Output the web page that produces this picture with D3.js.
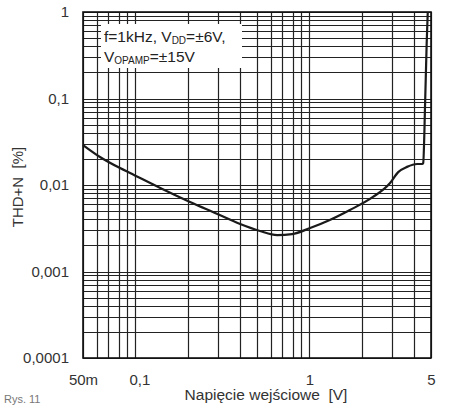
<!DOCTYPE html>
<html>
<head>
<meta charset="utf-8">
<script src="https://cdn.jsdelivr.net/npm/d3@7"></script>
<style>
  body { margin: 0; background: #fff; }
  svg { display: block; font-family: "Liberation Sans", Arial, sans-serif; }
</style>
</head>
<body>
<div id="chart"></div>
<script>
// curve
const voltage = [0.05, 0.0626, 0.0816, 0.0932, 0.139, 0.206, 0.287, 0.40, 0.52, 0.653, 0.796, 1.01, 1.31, 1.71, 2.32, 2.91, 3.24, 3.64, 4.16, 4.45, 4.51, 4.63, 4.72, 4.79];
const thd     = [0.029, 0.0211, 0.0157, 0.01376, 0.00923, 0.00636, 0.00475, 0.00354, 0.00294, 0.00264, 0.00271, 0.00318, 0.00394, 0.00514, 0.00727, 0.01055, 0.0141, 0.0162, 0.0175, 0.0175, 0.018, 0.096, 0.42, 1];

const xTicks = [0.05, 0.1, 1, 5];
const xTickLabels = ["50m", "0,1", "1", "5"];
const yTicks = [0.0001, 0.001, 0.01, 0.1, 1];
const yTickLabels = ["0,0001", "0,001", "0,01", "0,1", "1"];

const width = 454, height = 405;
const m = { left: 83, right: 23, top: 12, bottom: 47 };
const font = "Liberation Sans, Arial, sans-serif";

const svg = d3.select("#chart").append("svg")
    .attr("width", width)
    .attr("height", height);

const x = d3.scaleLog().domain([0.05, 5]).range([m.left, width - m.right]);
const y = d3.scaleLog().domain([0.0001, 1]).range([height - m.bottom, m.top]);

const grid = svg.append("g").attr("stroke", "#222").attr("stroke-width", 1.2);

// vertical grid
grid.selectAll(".vx")
    .data(x.ticks())
    .join("line")
    .attr("x1", d => Math.round(x(d)) + 0.5).attr("x2", d => Math.round(x(d)) + 0.5)
    .attr("y1", m.top).attr("y2", height - m.bottom);

// horizontal grid
grid.selectAll(".hy")
    .data(y.ticks())
    .join("line")
    .attr("y1", d => Math.round(y(d)) + 0.5).attr("y2", d => Math.round(y(d)) + 0.5)
    .attr("x1", m.left).attr("x2", width - m.right);

// frame
svg.append("rect")
   .attr("x", m.left).attr("y", m.top)
   .attr("width", width - m.left - m.right)
   .attr("height", height - m.top - m.bottom)
   .attr("fill", "none").attr("stroke", "#111").attr("stroke-width", 1.6);

// legend box
const box = svg.append("g");
box.append("rect")
   .attr("x", 101).attr("y", 24).attr("width", 141).attr("height", 44)
   .attr("fill", "#fff");
const t1 = box.append("text").attr("x", 104).attr("y", 42).attr("font-size", 15.5).attr("fill", "#222");
t1.append("tspan").text("f=1kHz, V");
t1.append("tspan").attr("font-size", 10).attr("dy", 2).text("DD");
t1.append("tspan").attr("dy", -2).text("=±6V,");
const t2 = box.append("text").attr("x", 104).attr("y", 62).attr("font-size", 15.5).attr("fill", "#222");
t2.append("tspan").text("V");
t2.append("tspan").attr("font-size", 10).attr("dy", 2).text("OPAMP");
t2.append("tspan").attr("dy", -2).text("=±15V");

// curve
const line = d3.line()
    .x((d, i) => x(voltage[i]))
    .y(d => y(d))
    .curve(d3.curveMonotoneX);

svg.append("path")
   .datum(thd)
   .attr("d", line)
   .attr("fill", "none")
   .attr("stroke", "#1a1a1a")
   .attr("stroke-width", 2.2);

// axes
const yAxis = svg.append("g")
    .attr("transform", `translate(${m.left - 11},0)`)
    .call(d3.axisLeft(y).tickValues(yTicks).tickSize(0).tickFormat((d, i) => yTickLabels[i]));
yAxis.select(".domain").remove();
yAxis.selectAll("text").attr("font-size", 15).attr("fill", "#333").attr("font-family", font);

const xAxis = svg.append("g")
    .attr("transform", `translate(0,${height - m.bottom + 13})`)
    .call(d3.axisBottom(x).tickValues(xTicks).tickSize(0).tickFormat((d, i) => xTickLabels[i]));
xAxis.select(".domain").remove();
xAxis.selectAll("text").attr("font-size", 15).attr("fill", "#333").attr("font-family", font);
xAxis.selectAll(".tick").filter(d => d === 0.1).select("text").attr("dx", 4);

svg.append("text")
   .attr("x", 266).attr("y", 400)
   .attr("text-anchor", "middle").attr("font-size", 15.5).attr("fill", "#333")
   .attr("xml:space", "preserve")
   .text("Napięcie wejściowe  [V]");

svg.append("text")
   .attr("transform", "translate(23,187) rotate(-90)")
   .attr("text-anchor", "middle").attr("font-size", 15).attr("fill", "#333")
   .attr("xml:space", "preserve")
   .text("THD+N  [%]");

svg.append("text")
   .attr("x", 4).attr("y", 403)
   .attr("font-size", 11).attr("fill", "#777")
   .text("Rys. 11");
</script>
</body>
</html>
